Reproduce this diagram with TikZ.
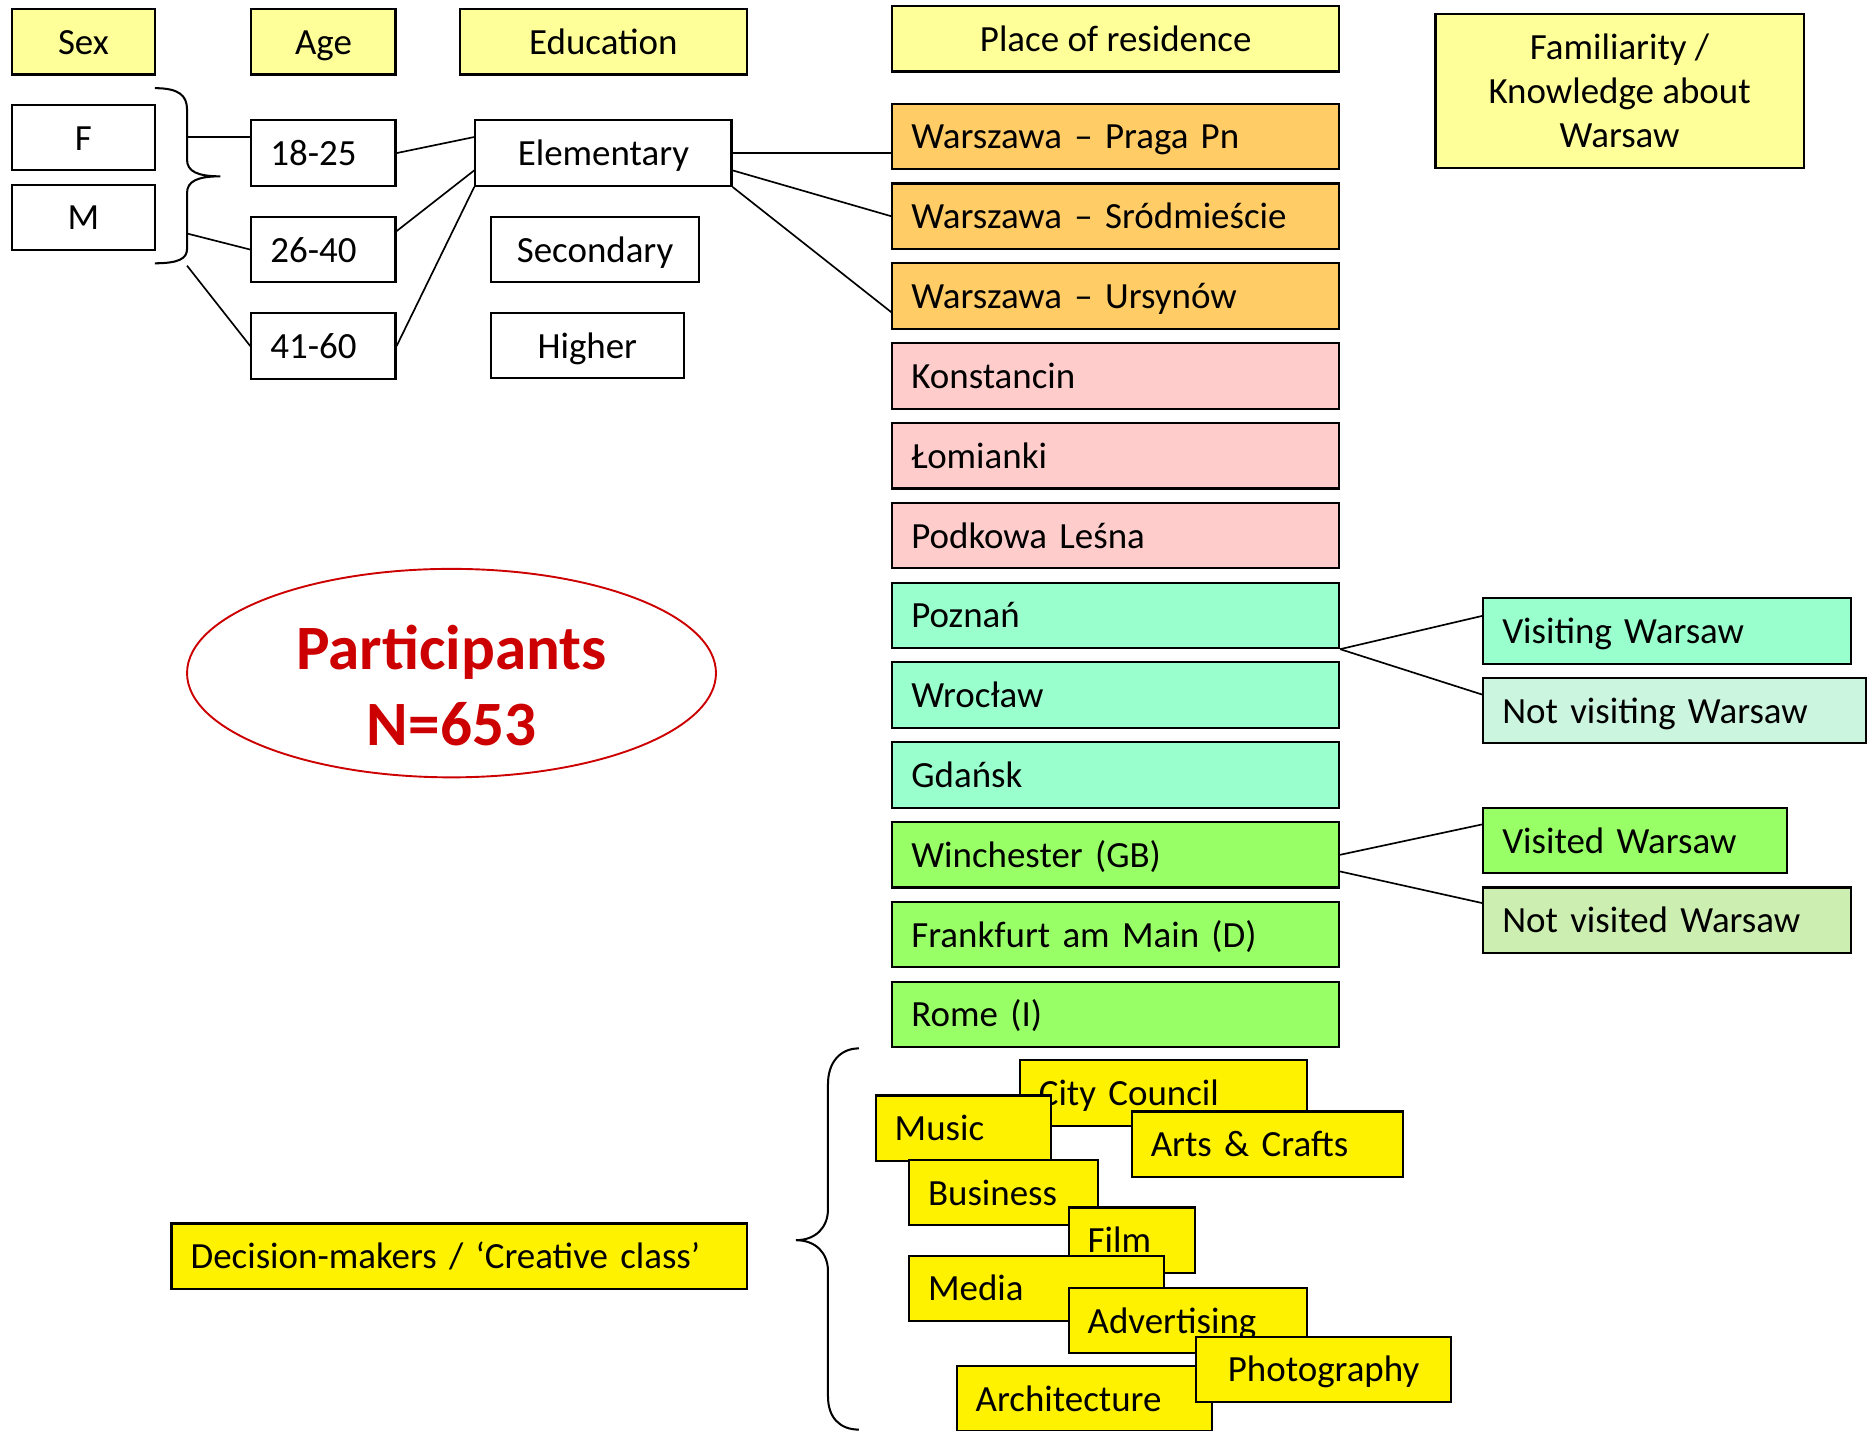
\documentclass[tikz,border=0pt]{standalone}
\usepackage{fontspec}
\setmainfont{Carlito}
\usetikzlibrary{positioning, shapes.geometric}

\definecolor{hdryellow}{HTML}{FFFF99}
\definecolor{warsaw}{HTML}{FFCC66}
\definecolor{suburb}{HTML}{FFCCCC}
\definecolor{polcity}{HTML}{99FFCC}
\definecolor{forcity}{HTML}{99FF66}
\definecolor{polpale}{HTML}{CCF5E0}
\definecolor{forpale}{HTML}{CCEEB0}
\definecolor{partred}{HTML}{CC0000}

\tikzset{
  base/.style={draw, line width=0.9pt, minimum height=27.5pt, inner xsep=8pt, inner ysep=0pt},
  box/.style={base, text height=11pt, text depth=0.5pt},
  hdr/.style={box, fill=hdryellow},
  lbox/.style={box, text width=#1, align=left},
  place/.style={lbox=171.5pt, fill=#1},
  tag/.style={lbox=#1, fill=yellow},
  link/.style={line width=0.7pt},
}

\begin{document}
\begin{tikzpicture}[x=0.5pt, y=-0.5pt, node distance=33.5pt, font=\fontsize{15.5}{18.5}\selectfont]
\useasboundingbox (0,0) rectangle (1568,1201);

% headings
\node (sex) [hdr, minimum width=60pt] at (70,35) {Sex};
\node (age) [hdr, minimum width=60.5pt] at (271.5,35) {Age};
\node (edu) [hdr, minimum width=120.5pt] at (506.5,35) {Education};
\node (res) [hdr, minimum width=187.5pt] at (936.5,32.5) {Place of residence};
\node (fam) [base, fill=hdryellow, minimum width=154.5pt, minimum height=64.5pt, align=center] at (1359.5,76.5) {Familiarity /\\Knowledge about\\Warsaw};

% sex, age, education
\node (F) [box, minimum width=60pt] at (70,115.5) {F};
\node (M) [box, minimum width=60pt, below of=F] {M};

\node (a1) [lbox=44.5pt] at (271.5,128.5) {18-25};
\node (a2) [lbox=44.5pt, node distance=40.5pt, below of=a1] {26-40};
\node (a3) [lbox=44.5pt, node distance=40.5pt, below of=a2] {41-60};

\node (elem) [box, minimum width=107.5pt] at (506.5,128.5) {Elementary};
\node (sec) [box, minimum width=87.5pt] at (499.5,209.5) {Secondary};
\node (high) [box, minimum width=81pt] at (493,290) {Higher};

% place of residence
\node (praga) [place=warsaw] at (936.5,114.5) {Warszawa – Praga Pn};
\node (srod) [place=warsaw, below of=praga] {Warszawa – Sródmieście};
\node (urs) [place=warsaw, below of=srod] {Warszawa – Ursynów};
\node (kon) [place=suburb, below of=urs] {Konstancin};
\node (lom) [place=suburb, below of=kon] {Łomianki};
\node (podk) [place=suburb, below of=lom] {Podkowa Leśna};
\node (poz) [place=polcity, below of=podk] {Poznań};
\node (wro) [place=polcity, below of=poz] {Wrocław};
\node (gda) [place=polcity, below of=wro] {Gdańsk};
\node (win) [place=forcity, below of=gda] {Winchester (GB)};
\node (fra) [place=forcity, below of=win] {Frankfurt am Main (D)};
\node (rome) [place=forcity, below of=fra] {Rome (I)};

% familiarity
\node (visit) [lbox=138.5pt, fill=polcity] at (1399.5,529.5) {Visiting Warsaw};
\node (novisit) [lbox=144.5pt, fill=polpale] at (1405.5,596.5) {Not visiting Warsaw};
\node (visited) [lbox=111.5pt, fill=forcity] at (1372.5,705.5) {Visited Warsaw};
\node (novisited) [lbox=138.5pt, fill=forpale] at (1399.5,772.5) {Not visited Warsaw};

% participants
\node (part) [ellipse, draw=partred, line width=0.8pt, minimum width=222pt, minimum height=87.5pt,
  inner sep=0pt, align=center, text=partred, text height=61pt, text depth=0pt,
  font=\fontsize{26.5}{32}\selectfont\bfseries]
  at (379,565) {Participants\\N=653};

% creative class
\node (dm) [tag=225.5pt] at (385.5,1054.5) {Decision-makers / ‘Creative class’};
\node (city) [tag=104.5pt] at (976.5,917.5) {City Council};
\node (music) [tag=57.5pt] at (808.5,947) {Music};
\node (arts) [tag=98pt] at (1064,960.5) {Arts \& Crafts};
\node (bus) [tag=63.5pt] at (842.5,1001) {Business};
\node (film) [tag=37pt] at (950,1041) {Film};
\node (media) [tag=91pt] at (870,1081.5) {Media};
\node (adv) [tag=84pt] at (997,1108.5) {Advertising};
\node (arch) [tag=91pt] at (910,1174) {Architecture};
\node (photo) [box, fill=yellow, minimum width=107pt] at (1111,1149.5) {Photography};

% braces
\coordinate (bF) at (157,115);
\coordinate (bM) at (157,196);
\coordinate (bEnd) at (157,223);
\draw [line width=0.85pt] (130,74) .. controls (150,74) and (157,80) .. (157,92) -- (157,134)
  .. controls (157,144) and (166,148) .. (185,148) .. controls (166,148) and (157,152) .. (157,162)
  -- (157,209) .. controls (157,217) and (150,221) .. (130,221);
\draw [line width=0.85pt] (721,880) .. controls (705,880) and (695,892) .. (695,910) -- (695,1015)
  .. controls (695,1030) and (685,1041) .. (668,1041) .. controls (685,1041) and (695,1052) .. (695,1067)
  -- (695,1172) .. controls (695,1190) and (705,1200) .. (721,1200);

% connectors
\draw [link] (bF) -- (bF -| a1.west);
\draw [link] (bM) -- (a2.west);
\draw [link] (bEnd) -- (a3.west);
\draw [link] (a1.east) -- ([yshift=6.75pt]elem.west);
\draw [link] ([yshift=7.75pt]a2.east) -- ([yshift=-7.25pt]elem.west);
\draw [link] (a3.east) -- (elem.south west);
\draw [link] (elem.east) -- (elem.east -| praga.west);
\draw [link] ([yshift=-7.25pt]elem.east) -- (srod.west);
\draw [link] (elem.south east) -- ([yshift=-6.75pt]urs.west);
\draw [link] (poz.south east) -- ([yshift=6.25pt]visit.west);
\draw [link] (poz.south east) -- ([yshift=6.75pt]novisit.west);
\draw [link] (win.east) -- ([yshift=6.75pt]visited.west);
\draw [link] ([yshift=-7pt]win.east) -- ([yshift=7.25pt]novisited.west);
\end{tikzpicture}
\end{document}
